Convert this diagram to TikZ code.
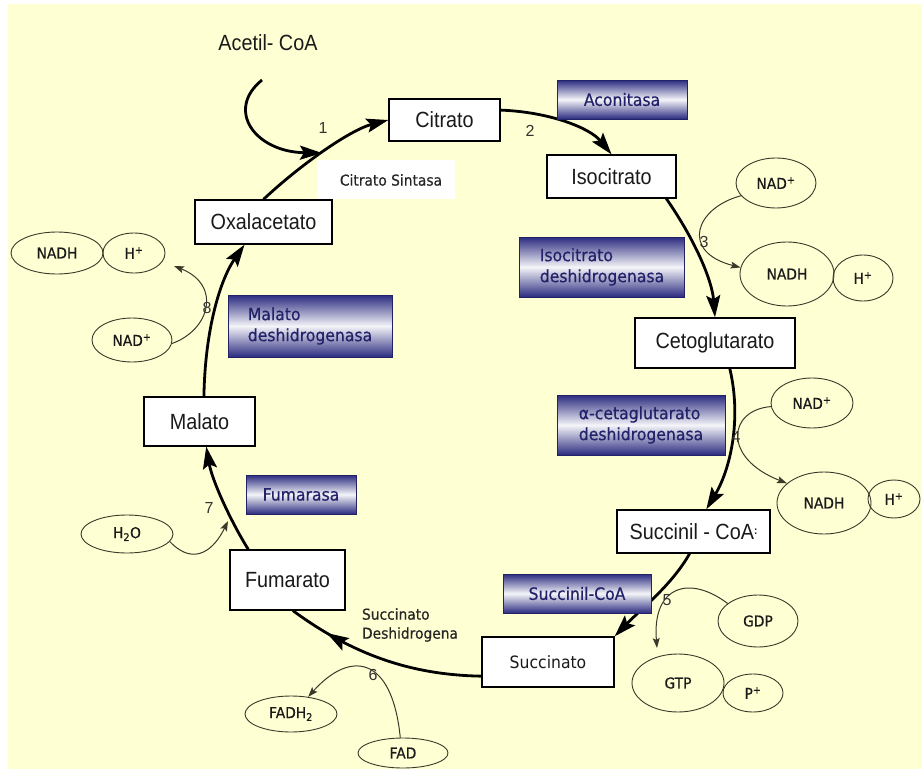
\documentclass[tikz,border=0pt]{standalone}
\usepackage{fontspec}
\setmainfont{Liberation Sans}
\newfontfamily\narrowf{Liberation Sans}[FakeStretch=0.9]
\newfontfamily\tahf{DejaVu Sans}[FakeStretch=0.92]
\newfontfamily\tahbf{DejaVu Sans}[FakeStretch=0.92,FakeBold=0.5]
\usetikzlibrary{arrows.meta,shapes.geometric,decorations.markings}
\definecolor{bgyel}{HTML}{FFFFD4}
\definecolor{ennavy}{HTML}{2B2B80}
\definecolor{entext}{HTML}{22226A}
\definecolor{ink}{HTML}{1A1A1A}
\definecolor{olive}{HTML}{3A3A2A}
\tikzset{
 mbox/.style={draw=black, line width=1.3pt, fill=white, inner sep=0pt, font=\narrowf\fontsize{22}{24}\selectfont, text=ink},
 enz/.style={draw=ennavy!80!black, line width=0.8pt, top color=ennavy, bottom color=ennavy, middle color=ennavy!5, inner sep=0pt, align=left, font=\tahbf\fontsize{17}{21}\selectfont, text=entext},
 mol/.style={ellipse, draw=olive, line width=0.9pt, inner sep=0pt, font=\tahbf\fontsize{15}{16}\selectfont, text=ink},
 mainln/.style={line width=2.8pt, draw=black},
 mainarr/.style={mainln, -{Stealth[length=22pt,width=14pt,inset=4pt]}},
 sidearr/.style={line width=1pt, draw=olive, -{Stealth[length=10pt,width=7pt,inset=2pt]}},
 num/.style={font=\fontsize{16}{16}\selectfont, text=black!80, inner sep=0pt},
 lbl/.style={font=\tahbf\fontsize{15}{19}\selectfont, text=black!85, align=left, inner sep=0pt},
}
\begin{document}
\begin{tikzpicture}[x=1pt,y=-1pt]
\useasboundingbox (0,0) rectangle (922,771);
\fill[white] (0,0) rectangle (922,771);
\fill[bgyel] (8,4) rectangle (922,769);
\fill[white] (317,160) rectangle (455,199);

% metabolite boxes
\node[mbox, minimum width=111pt, minimum height=42pt] (cit) at (444.5,120) {Citrato};
\node[mbox, minimum width=129pt, minimum height=43pt] (iso) at (611.5,176.5) {Isocitrato};
\node[mbox, minimum width=160pt, minimum height=50pt] (ceto) at (715,343) {Cetoglutarato};
\node[mbox, minimum width=153pt, minimum height=43pt] (succ) at (693.5,531.5) {Succinil - CoA\raisebox{5pt}{\fontsize{11}{11}\selectfont\bfseries :}};
\node[mbox, minimum width=132pt, minimum height=50pt, font=\tahf\fontsize{17}{20}\selectfont] (suc) at (548,662) {Succinato};
\node[mbox, minimum width=115pt, minimum height=60pt] (fum) at (287.5,580) {Fumarato};
\node[mbox, minimum width=111pt, minimum height=49pt] (mal) at (199.5,421.5) {Malato};
\node[mbox, minimum width=137pt, minimum height=44pt] (oxa) at (263.5,222) {Oxalacetato};

\node[font=\narrowf\fontsize{22}{24}\selectfont, text=ink] (acet) at (268,43) {Acetil- CoA};
\node[lbl] (cs) at (391,180) {Citrato Sintasa};
\node[lbl] (sdh) at (410,625) {Succinato\\Deshidrogena};

% cofactor ellipses
\node[mol, minimum width=80pt, minimum height=50pt] (nad3) at (776,183) {NAD\textsuperscript{+}};
\node[mol, minimum width=94pt, minimum height=64pt] (nadh3) at (787,274) {NADH};
\node[mol, minimum width=60pt, minimum height=46pt] (h3) at (863,278) {H\textsuperscript{+}};
\node[mol, minimum width=82pt, minimum height=50pt] (nad4) at (812,403) {NAD\textsuperscript{+}};
\node[mol, minimum width=94pt, minimum height=62pt] (nadh4) at (824,503) {NADH};
\node[mol, minimum width=52pt, minimum height=38pt] (h4) at (894,499) {H\textsuperscript{+}};
\node[mol, minimum width=80pt, minimum height=52pt] (gdp) at (758,621) {GDP};
\node[mol, minimum width=92pt, minimum height=58pt] (gtp) at (678,683) {GTP};
\node[mol, minimum width=60pt, minimum height=38pt] (p5) at (753,693) {P\textsuperscript{+}};
\node[mol, minimum width=92pt, minimum height=36pt] (fadh) at (291,714) {FADH\textsubscript{2}};
\node[mol, minimum width=90pt, minimum height=30pt] (fad) at (403,753) {FAD};
\node[mol, minimum width=92pt, minimum height=38pt] (h2o) at (127,534) {H\textsubscript{2}O};
\node[mol, minimum width=80pt, minimum height=44pt] (nad8) at (132,340) {NAD\textsuperscript{+}};
\node[mol, minimum width=92pt, minimum height=42pt] (nadh8) at (57,253) {NADH};
\node[mol, minimum width=62pt, minimum height=40pt] (h8) at (134,253) {H\textsuperscript{+}};

\coordinate (a0) at (262,80);
\coordinate (a1) at (322,153);
\coordinate (t5) at (657,648);
\coordinate (t7) at (228,521);
\coordinate (t8) at (174,266);

% side reactions
\draw[sidearr] (nad3.200) .. controls (695,208) and (680,252) .. (nadh3.172);
\draw[sidearr] (nad4.185) .. controls (728,410) and (722,458) .. (nadh4.152);
\draw[sidearr] (gdp.150) .. controls (690,575) and (652,585) .. (t5);
\draw[sidearr] (fad.100) .. controls (392,655) and (350,650) .. (fadh.45);
\draw[sidearr] (h2o.-10) .. controls (195,568) and (215,548) .. (t7);
\draw[sidearr] (nad8.-5) .. controls (210,330) and (222,285) .. (t8);

% main cycle
\draw[mainarr] (a0) .. controls (225,110) and (255,152) .. (a1);
\draw[mainarr] (oxa.north) .. controls (300,165) and (350,130) .. (cit.west);
\draw[mainarr] (cit.10) .. controls (550,112) and (590,128) .. (iso.north);
\draw[mainarr] (iso.-22) .. controls (695,240) and (712,280) .. (ceto.north);
\draw[mainarr] (ceto.-60) .. controls (742,420) and (730,470) .. (succ.60);
\draw[mainarr] (succ.-100) .. controls (672,585) and (640,610) .. (suc.north east);
\draw[mainln, postaction={decorate, decoration={markings, mark=at position 0.8 with {\arrow{Stealth[length=22pt,width=14pt,inset=4pt]}}}}]
  (suc.-168) .. controls (420,675) and (360,660) .. (fum.-80);
\draw[mainarr] (fum.142) .. controls (230,520) and (212,480) .. (mal.-75);
\draw[mainarr] (mal.80) .. controls (205,330) and (220,280) .. (oxa.-130);

% enzymes
\node[enz, minimum width=130pt, minimum height=39pt, align=center] (acon) at (622,99.5) {Aconitasa};
\node[enz, minimum width=165pt, minimum height=60pt] (isod) at (602,267) {Isocitrato\\deshidrogenasa};
\node[enz, minimum width=168pt, minimum height=60pt] (akgd) at (641,425) {α-cetaglutarato\\deshidrogenasa};
\node[enz, minimum width=148pt, minimum height=39pt, align=center] (scs) at (577,593.5) {Succinil-CoA};
\node[enz, minimum width=110pt, minimum height=39pt, align=center] (fumz) at (301,494.5) {Fumarasa};
\node[enz, minimum width=164pt, minimum height=62pt] (mdh) at (310,326) {Malato\\deshidrogenasa};

% step numbers
\node[num] (n1) at (323,128) {1};
\node[num] (n2) at (530,131) {2};
\node[num] (n3) at (704,242) {3};
\node[num] (n4) at (736,437) {4};
\node[num] (n5) at (667,600) {5};
\node[num] (n6) at (373,675) {6};
\node[num] (n7) at (209,508) {7};
\node[num] (n8) at (207,308) {8};
\end{tikzpicture}
\end{document}
